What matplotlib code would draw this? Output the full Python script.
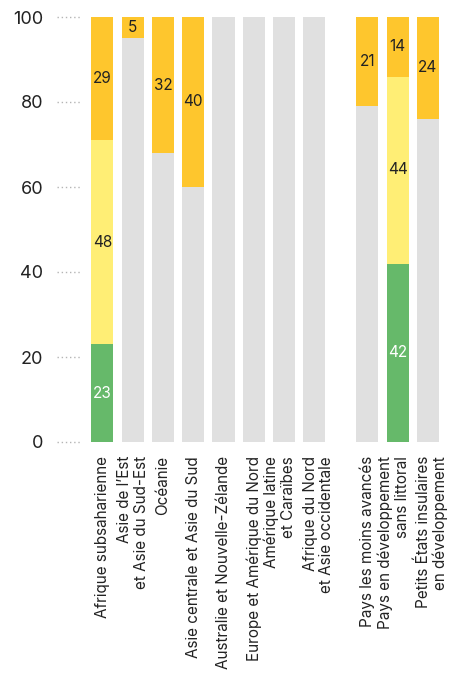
import numpy as np
import matplotlib
matplotlib.use('Agg')
import matplotlib.pyplot as plt
from matplotlib.transforms import ScaledTranslation

plt.rcParams['font.family'] = ['Inter', 'DejaVu Sans']

categories = ['Afrique subsaharienne', 'Asie de l\u2019Est\net Asie du Sud-Est', 'Océanie',
              'Asie centrale et Asie du Sud', 'Australie et Nouvelle-Zélande',
              'Europe et Amérique du Nord', 'Amérique latine\net Caraïbes',
              'Afrique du Nord\net Asie occidentale', 'Pays les moins avancés',
              'Pays en développement\nsans littoral', 'Petits États insulaires\nen développement']
greenVals = [23, 0, 0, 0, 0, 0, 0, 0, 0, 42, 0]
lightVals = [48, 0, 0, 0, 0, 0, 0, 0, 0, 44, 0]
orangeVals = [29, 5, 32, 40, 0, 0, 0, 0, 21, 14, 24]

# layout: 8 regions, a gap, then 3 country groups
xPos = np.array([0, 1, 2, 3, 4, 5, 6, 7, 8.75, 9.75, 10.75])
# small sideways nudges (pt) so the two-line labels don't collide
labelShift = [0, 0, 0, 0, 0, 0, -3, 3, 0, -3, 3]

green = np.array(greenVals)
light = np.array(lightVals)
orange = np.array(orangeVals)
grey = 100 - green - light - orange

fig = plt.figure(figsize=(4.55, 6.75), dpi=100)
ax = fig.add_axes([57/455, 1 - 442/675, (440 - 57)/455, (442 - 17)/675])

w = 0.73
ax.bar(xPos, green, w, color='#66b96a')
ax.bar(xPos, light, w, bottom=green, color='#ffee75')
ax.bar(xPos, grey, w, bottom=green + light, color='#e0e0e0')
ax.bar(xPos, orange, w, bottom=100 - orange, color='#fec62d')

for x, g, l, o in zip(xPos, green, light, orange):
    if g > 0:
        ax.text(x, g / 2, f'{g}', ha='center', va='center', color='white', fontsize=11)
    if l > 0:
        ax.text(x, g + l / 2, f'{l}', ha='center', va='center', color='#222222', fontsize=11)
    if o > 0:
        ax.text(x, 100 - o / 2, f'{o}', ha='center', va='center', color='#222222', fontsize=11)

ax.set_xlim(-1.5, 11.15)
ax.set_ylim(0, 100)

yt = [0, 20, 40, 60, 80, 100]
for y in yt:
    ax.plot([-1.5, -0.75], [y, y], ls=(0, (1, 2)), color='#b5b5b5', lw=1, clip_on=False)
ax.set_yticks(yt)
ax.set_yticklabels([str(y) for y in yt], fontsize=13, color='#222222')
ax.tick_params(axis='y', length=0, pad=10)

ax.set_xticks(xPos)
ax.set_xticklabels(categories, rotation=90, fontsize=11, color='#222222',
                   ha='center', va='top', multialignment='right', linespacing=1.15)
ax.tick_params(axis='x', length=0, pad=10)
for lab, dx in zip(ax.get_xticklabels(), labelShift):
    lab.set_transform(lab.get_transform() + ScaledTranslation(dx / 72, 0, fig.dpi_scale_trans))

for s in ax.spines.values():
    s.set_visible(False)

plt.savefig('out.png', dpi=100)
plt.close()
